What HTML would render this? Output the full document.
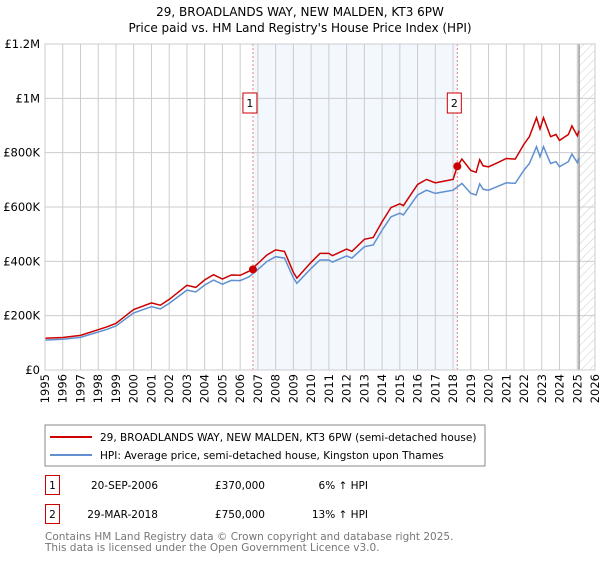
<!DOCTYPE html>
<html><head><meta charset="utf-8"><style>
body{margin:0;background:#fff;font-family:"DejaVu Sans","Liberation Sans",sans-serif;}
svg text{font-family:"DejaVu Sans","Liberation Sans",sans-serif;}
</style></head><body>
<svg width="600" height="560" xmlns="http://www.w3.org/2000/svg">
<defs><pattern id="hatch" width="6" height="6" patternUnits="userSpaceOnUse" patternTransform="rotate(45)"><line x1="0" y1="0" x2="0" y2="6" stroke="#ccc" stroke-width="1"/></pattern></defs>
<text x="300" y="16" text-anchor="middle" font-size="12">29, BROADLANDS WAY, NEW MALDEN, KT3 6PW</text>
<text x="300" y="32" text-anchor="middle" font-size="12">Price paid vs. HM Land Registry's House Price Index (HPI)</text>
<g id="plot"></g>
<rect x="45" y="425" width="440" height="41" fill="#fff" stroke="#888"/>
<line x1="50" y1="437" x2="92" y2="437" stroke="#cc0000" stroke-width="2"/>
<text x="100" y="441" font-size="10.5">29, BROADLANDS WAY, NEW MALDEN, KT3 6PW (semi-detached house)</text>
<line x1="50" y1="455" x2="92" y2="455" stroke="#6090d0" stroke-width="2"/>
<text x="100" y="459" font-size="10.5">HPI: Average price, semi-detached house, Kingston upon Thames</text>
<g font-size="10.5">
<rect x="45.5" y="475.5" width="14" height="19" fill="#fff" stroke="#cc0000"/>
<text x="52.5" y="489" text-anchor="middle">1</text>
<text x="158" y="489" text-anchor="end">20-SEP-2006</text>
<text x="265" y="489" text-anchor="end">£370,000</text>
<text x="368" y="489" text-anchor="end">6% ↑ HPI</text>
<rect x="45.5" y="504.5" width="14" height="19" fill="#fff" stroke="#cc0000"/>
<text x="52.5" y="518" text-anchor="middle">2</text>
<text x="158" y="518" text-anchor="end">29-MAR-2018</text>
<text x="265" y="518" text-anchor="end">£750,000</text>
<text x="368" y="518" text-anchor="end">13% ↑ HPI</text>
</g>
<text x="45" y="540" font-size="10.5" fill="#777">Contains HM Land Registry data © Crown copyright and database right 2025.</text>
<text x="45" y="551" font-size="10.5" fill="#777">This data is licensed under the Open Government Licence v3.0.</text>
</svg>
<script>
const hpiYears=[1995,1996,1997,1998,1998.5,1999,2000,2001,2001.5,2002,2003,2003.5,2004,2004.5,2005,2005.5,2006,2006.5,2007,2007.5,2008,2008.5,2009,2009.2,2010,2010.5,2011,2011.2,2012,2012.3,2013,2013.5,2014,2014.5,2015,2015.2,2016,2016.5,2017,2017.5,2018,2018.5,2019,2019.3,2019.5,2019.7,2020,2020.5,2021,2021.5,2022,2022.3,2022.7,2022.9,2023.1,2023.5,2023.8,2024,2024.5,2024.7,2025,2025.1];
const hpiValues=[110,113,120,140,150,162,210,233,225,245,294,287,313,331,316,330,329,343,370,399,417,412,339,319,374,405,405,397,420,412,454,460,515,564,577,571,644,662,650,656,662,687,650,644,685,665,662,675,689,687,736,760,822,785,822,760,767,748,767,795,763,780];
const saleYears=[2006.72,2018.24];
const salePrices=[370,750];
const saleLabels=["1","2"];
const yTicks=[0,200,400,600,800,1000,1200];
const yTickLabels=["£0","£200K","£400K","£600K","£800K","£1M","£1.2M"];
const xTicks=[];for(let y=1995;y<=2026;y++)xTicks.push(y);
const ratioBefore=1.06, ratioAfter=1.13, dataEnd=2025.1;
const L=45,R=595,T=44,B=370;
const X=y=>L+(y-1995)/(2026-1995)*(R-L);
const Y=v=>B-v/1200*(B-T);
const NS="http://www.w3.org/2000/svg";
const g=document.getElementById('plot');
function mk(t,a){const e=document.createElementNS(NS,t);for(const k in a)e.setAttribute(k,a[k]);g.appendChild(e);return e;}
let e;
e=mk('rect',{x:X(saleYears[0]),y:T,width:X(saleYears[1])-X(saleYears[0]),height:B-T,fill:'#eef3fd',opacity:0.7});


e=mk('rect',{x:X(dataEnd),y:T,width:R-X(dataEnd),height:B-T,fill:'url(#hatch)'});


yTicks.forEach((v,i)=>{
 e=mk('line',{x1:L,x2:R,y1:Y(v),y2:Y(v),stroke:'#ccc'});
 
 
 e=mk('text',{x:L-5,y:Y(v)+4,'text-anchor':'end','font-size':'11.5'});e.textContent=yTickLabels[i];
 
 
});
xTicks.forEach(y=>{
 e=mk('line',{x1:X(y),x2:X(y),y1:T,y2:B,stroke:'#ccc'});
 
 
 e=mk('text',{x:0,y:0,'text-anchor':'end','font-size':'11.5',transform:`translate(${X(y)+4},374) rotate(-90)`});e.textContent=y;
 
 
});
e=mk('line',{x1:X(dataEnd),x2:X(dataEnd),y1:T,y2:B,stroke:'#999','stroke-width':1.5});


saleYears.forEach((s,i)=>{
 e=mk('line',{x1:X(s),x2:X(s),y1:T,y2:B,stroke:'#f08080','stroke-dasharray':'2,2'});
 
 
 e=mk('rect',{x:X(s)-10,y:93,width:14,height:20,fill:'#fff',stroke:'#cc0000'});
 
 
 e=mk('text',{x:X(s)-3,y:107,'text-anchor':'middle','font-size':'11'});e.textContent=saleLabels[i];
 
 
});
const blue=hpiYears.map((y,i)=>X(y).toFixed(1)+','+Y(hpiValues[i]).toFixed(1)).join(' ');
const redPts=[];
hpiYears.forEach((y,i)=>{
 if(y>saleYears[1]&&hpiYears[i-1]<=saleYears[1]){redPts.push([saleYears[1],salePrices[1]]);}
 redPts.push([y,hpiValues[i]*(y<saleYears[1]?ratioBefore:ratioAfter)]);
});
e=mk('polyline',{points:blue,fill:'none',stroke:'#6090d0','stroke-width':1.5});


e=mk('polyline',{points:redPts.map(p=>X(p[0]).toFixed(1)+','+Y(p[1]).toFixed(1)).join(' '),fill:'none',stroke:'#cc0000','stroke-width':1.5});


saleYears.forEach((s,i)=>{
 e=mk('circle',{cx:X(s),cy:Y(salePrices[i]),r:4,fill:'#cc0000'});
 
 
});
e=mk('rect',{x:L,y:T,width:R-L,height:B-T,fill:'none',stroke:'#ccc'});


</script>
</body></html>
